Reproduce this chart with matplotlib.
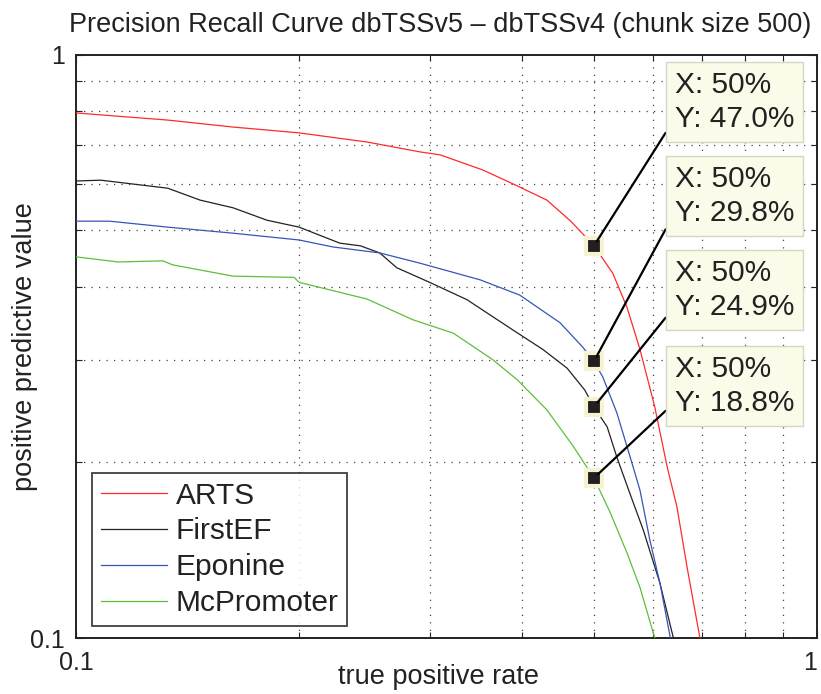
import numpy as np
import matplotlib
matplotlib.use("Agg")
import matplotlib.pyplot as plt
from matplotlib.ticker import FixedLocator, NullFormatter, FixedFormatter

plt.rcParams['font.family'] = ['Liberation Sans', 'DejaVu Sans']

# ---- data ----
arts_x = [0.100, 0.133, 0.163, 0.200, 0.247, 0.291, 0.310, 0.354, 0.389, 0.432,
          0.466, 0.500, 0.530, 0.554, 0.577, 0.604, 0.628, 0.647, 0.668, 0.695]
arts_y = [0.794, 0.772, 0.751, 0.734, 0.708, 0.681, 0.673, 0.634, 0.600, 0.563,
          0.517, 0.470, 0.422, 0.369, 0.312, 0.249, 0.196, 0.168, 0.132, 0.100]

firstef_x = [0.100, 0.108, 0.133, 0.147, 0.163, 0.181, 0.200, 0.227, 0.242, 0.257,
             0.271, 0.300, 0.337, 0.389, 0.427, 0.460, 0.486, 0.500, 0.521, 0.537,
             0.559, 0.583, 0.614, 0.640]
firstef_y = [0.607, 0.609, 0.590, 0.563, 0.546, 0.520, 0.506, 0.475, 0.470, 0.457,
             0.431, 0.407, 0.380, 0.337, 0.312, 0.290, 0.266, 0.249, 0.230, 0.204,
             0.177, 0.153, 0.124, 0.100]

eponine_x = [0.100, 0.111, 0.133, 0.163, 0.200, 0.222, 0.257, 0.291, 0.351, 0.397,
             0.450, 0.483, 0.500, 0.514, 0.537, 0.565, 0.577, 0.595, 0.614, 0.634]
eponine_y = [0.518, 0.518, 0.506, 0.494, 0.481, 0.468, 0.457, 0.439, 0.411, 0.387,
             0.347, 0.315, 0.298, 0.280, 0.243, 0.196, 0.179, 0.147, 0.124, 0.100]

mcp_x = [0.100, 0.114, 0.131, 0.135, 0.163, 0.197, 0.200, 0.247, 0.285, 0.323,
         0.365, 0.394, 0.432, 0.469, 0.500, 0.526, 0.554, 0.577, 0.604]
mcp_y = [0.450, 0.441, 0.443, 0.436, 0.417, 0.415, 0.407, 0.381, 0.351, 0.333,
         0.300, 0.277, 0.246, 0.213, 0.188, 0.164, 0.140, 0.122, 0.100]

series_names = ["ARTS", "FirstEF", "Eponine", "McPromoter"]
series_colors = ["#ff2a2a", "#222222", "#3556b8", "#5cbf3c"]

# data tips (x, y) and text box centres (figure pixels)
tip_x = [0.5, 0.5, 0.5, 0.5]
tip_y = [0.470, 0.298, 0.249, 0.188]
tip_box_y = [592, 498, 404, 308]

x_ticks = [0.1, 1]
x_tick_labels = ["0.1", "1"]
y_ticks = [0.1, 1]
y_tick_labels = ["0.1", "1"]
minor_ticks = [0.2, 0.3, 0.4, 0.5, 0.6, 0.7, 0.8, 0.9]

# ---- figure ----
fig = plt.figure(figsize=(8.21, 6.94), dpi=100)
ax = fig.add_axes([76/821, 1-638/694, 741/821, 583.5/694])
ax.set_xscale('log')
ax.set_yscale('log')
ax.set_xlim(0.1, 1)
ax.set_ylim(0.1, 1)

for (xs, ys), name, c in zip([(arts_x, arts_y), (firstef_x, firstef_y),
                              (eponine_x, eponine_y), (mcp_x, mcp_y)],
                             series_names, series_colors):
    ax.plot(xs, ys, color=c, lw=0.9, label=name, zorder=3)

# ticks
for axis, ticks, labels in [(ax.xaxis, x_ticks, x_tick_labels), (ax.yaxis, y_ticks, y_tick_labels)]:
    axis.set_major_locator(FixedLocator(ticks))
    axis.set_major_formatter(FixedFormatter(labels))
    axis.set_minor_locator(FixedLocator(minor_ticks))
    axis.set_minor_formatter(NullFormatter())

ax.tick_params(which='both', direction='in', top=True, right=True, width=0.8, colors='#222222')
ax.tick_params(which='major', length=6, labelsize=18, pad=8)
ax.tick_params(which='minor', length=4)
ax.tick_params(axis='x', which='major', pad=9)
xt = ax.get_xticklabels()
xt[-1].set_horizontalalignment('right')
xt[-1].set_x(1.0)

ax.grid(True, which='minor', linestyle=(0, (1, 5)), color='#444444', lw=0.9)
for s in ax.spines.values():
    s.set_linewidth(1.4)
    s.set_color('#222222')

ax.set_xlabel("true positive rate", fontsize=19.5, color='#222222')
ax.set_ylabel("positive predictive value", fontsize=19.5, color='#222222')
ax.xaxis.set_label_coords(0.489, -0.044)
ax.yaxis.set_label_coords(-0.051, 0.5)

fig.text(440/821, 1-32/694, "Precision Recall Curve dbTSSv5 \u2013 dbTSSv4 (chunk size 500)",
         ha='center', va='baseline', fontsize=19.5, color='#222222')

leg = ax.legend(loc='lower left', bbox_to_anchor=(0.0216, 0.0206), fontsize=21.5,
                frameon=True, fancybox=False, handlelength=2.2, handletextpad=0.3,
                labelspacing=0.26, borderpad=0.3, borderaxespad=0)
leg.get_frame().set_edgecolor('#111111')
leg.get_frame().set_linewidth(1.3)
for t in leg.get_texts():
    t.set_color('#222222')

for tx, ty, by in zip(tip_x, tip_y, tip_box_y):
    ax.plot([tx], [ty], marker='s', ms=11, mfc='#231f20', mec='#f6f3d3', mew=3, zorder=6, clip_on=False)
    ax.annotate("X: %d%%\nY: %.1f%%" % (round(tx*100), ty*100), xy=(tx, ty), xycoords='data',
                xytext=(675, by), textcoords='figure pixels', ha='left', va='center',
                fontsize=21.5, color='#222222', linespacing=1.25, zorder=7,
                bbox=dict(boxstyle='square,pad=0.3', fc='#fbfbea', ec='#d6d6c6', lw=1),
                arrowprops=dict(arrowstyle='-', color='black', lw=1.6, relpos=(0, 0.24),
                                shrinkA=0, shrinkB=4))

fig.savefig("out.png", dpi=100)
